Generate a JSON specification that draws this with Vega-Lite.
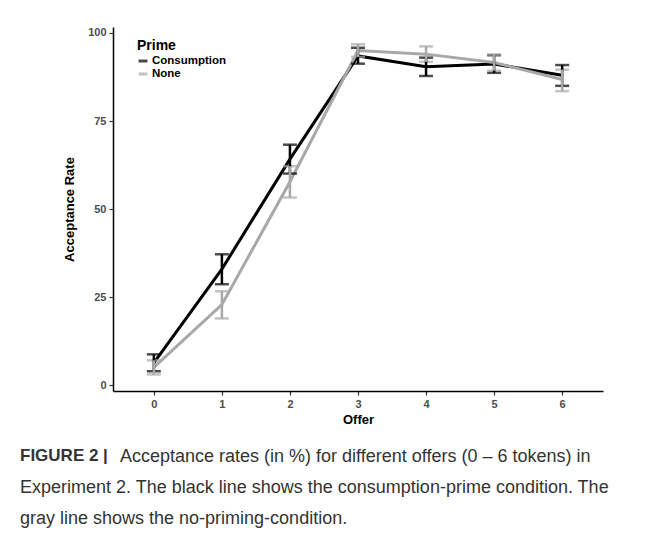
{
  "$schema": "https://vega.github.io/schema/vega-lite/v6.json",
  "width": 490,
  "height": 364,
  "autosize": {"type": "none"},
  "padding": {"left": 113, "top": 27, "right": 54, "bottom": 157},
  "background": "white",
  "config": {
    "view": {"stroke": null},
    "font": "Liberation Sans"
  },
  "title": {
    "text": "FIGURE 2 |",
    "subtitle": [
      "\u200b\u00a0\u00a0\u00a0\u00a0\u00a0\u00a0\u00a0\u00a0\u00a0\u00a0\u00a0\u00a0\u00a0\u00a0\u00a0\u00a0\u00a0\u00a0\u00a0\u00a0Acceptance rates (in %) for different offers (0 – 6 tokens) in",
      "Experiment 2. The black line shows the consumption-prime condition. The",
      "gray line shows the no-priming-condition."
    ],
    "orient": "bottom",
    "anchor": "start",
    "frame": "group",
    "dx": -93,
    "offset": 22,
    "fontSize": 17,
    "fontWeight": "bold",
    "color": "#333333",
    "subtitleFontSize": 18,
    "subtitleColor": "#333333",
    "subtitleLineHeight": 31,
    "subtitlePadding": -17,
    "subtitleFont": "Liberation Sans"
  },
  "data": {
    "values": [
      {"offer": 0, "prime": "Consumption", "rate": 6.4, "lo": 4.0, "hi": 8.8},
      {"offer": 1, "prime": "Consumption", "rate": 33.0, "lo": 28.7, "hi": 37.2},
      {"offer": 2, "prime": "Consumption", "rate": 64.2, "lo": 60.1, "hi": 68.3},
      {"offer": 3, "prime": "Consumption", "rate": 93.5, "lo": 91.3, "hi": 95.8},
      {"offer": 4, "prime": "Consumption", "rate": 90.4, "lo": 87.8, "hi": 93.0},
      {"offer": 5, "prime": "Consumption", "rate": 91.2, "lo": 88.7, "hi": 93.7},
      {"offer": 6, "prime": "Consumption", "rate": 88.0, "lo": 85.0, "hi": 90.9},
      {"offer": 0, "prime": "None", "rate": 5.1, "lo": 3.1, "hi": 7.1},
      {"offer": 1, "prime": "None", "rate": 22.9, "lo": 19.0, "hi": 26.7},
      {"offer": 2, "prime": "None", "rate": 57.8, "lo": 53.3, "hi": 62.2},
      {"offer": 3, "prime": "None", "rate": 95.0, "lo": 93.2, "hi": 96.8},
      {"offer": 4, "prime": "None", "rate": 94.0, "lo": 91.8, "hi": 96.2},
      {"offer": 5, "prime": "None", "rate": 91.6, "lo": 89.3, "hi": 93.9},
      {"offer": 6, "prime": "None", "rate": 86.8, "lo": 83.5, "hi": 89.6}
    ]
  },
  "encoding": {
    "x": {
      "field": "offer",
      "type": "quantitative",
      "title": "Offer",
      "scale": {"domain": [-0.6, 6.6], "nice": false, "zero": false},
      "axis": {
        "values": [0, 1, 2, 3, 4, 5, 6],
        "grid": false,
        "domainColor": "#000000",
        "domainWidth": 1.5,
        "tickColor": "#333333",
        "tickWidth": 1.2,
        "tickSize": 4,
        "labelColor": "#4d4d4d",
        "labelFontSize": 11,
        "labelFontWeight": "bold",
        "labelPadding": 3,
        "titleFontSize": 13,
        "titleFontWeight": "bold",
        "titleColor": "#000000",
        "titlePadding": 4
      }
    },
    "color": {
      "field": "prime",
      "type": "nominal",
      "scale": {"domain": ["Consumption", "None"], "range": ["#000000", "#a8a8a8"]},
      "legend": {
        "title": "Prime",
        "orient": "none",
        "legendX": 24,
        "legendY": 12,
        "titleFontSize": 14,
        "titleFontWeight": "bold",
        "titleColor": "#000000",
        "titlePadding": 2,
        "labelFontSize": 11.5,
        "labelFontWeight": "bold",
        "labelColor": "#000000",
        "labelOffset": 3,
        "symbolType": "stroke",
        "symbolStrokeWidth": 3,
        "symbolSize": 80,
        "rowPadding": 1,
        "padding": 0
      }
    }
  },
  "layer": [
    {
      "mark": {"type": "line", "strokeWidth": 3},
      "encoding": {
        "y": {
          "field": "rate",
          "type": "quantitative",
          "title": "Acceptance Rate",
          "scale": {"domain": [-1.6, 101.7], "nice": false, "zero": false},
          "axis": {
            "values": [0, 25, 50, 75, 100],
            "grid": false,
            "domainColor": "#000000",
            "domainWidth": 1.5,
            "tickColor": "#333333",
            "tickWidth": 1.2,
            "tickSize": 4,
            "labelColor": "#4d4d4d",
            "labelFontSize": 11,
            "labelFontWeight": "bold",
            "labelPadding": 3,
            "titleFontSize": 13,
            "titleFontWeight": "bold",
            "titleColor": "#000000",
            "titlePadding": 11
          }
        }
      }
    },
    {
      "mark": {"type": "errorbar", "ticks": {"size": 14, "thickness": 2.5}, "rule": {"strokeWidth": 2.5}},
      "encoding": {
        "y": {"field": "lo", "type": "quantitative", "title": "Acceptance Rate"},
        "y2": {"field": "hi"}
      }
    }
  ]
}
